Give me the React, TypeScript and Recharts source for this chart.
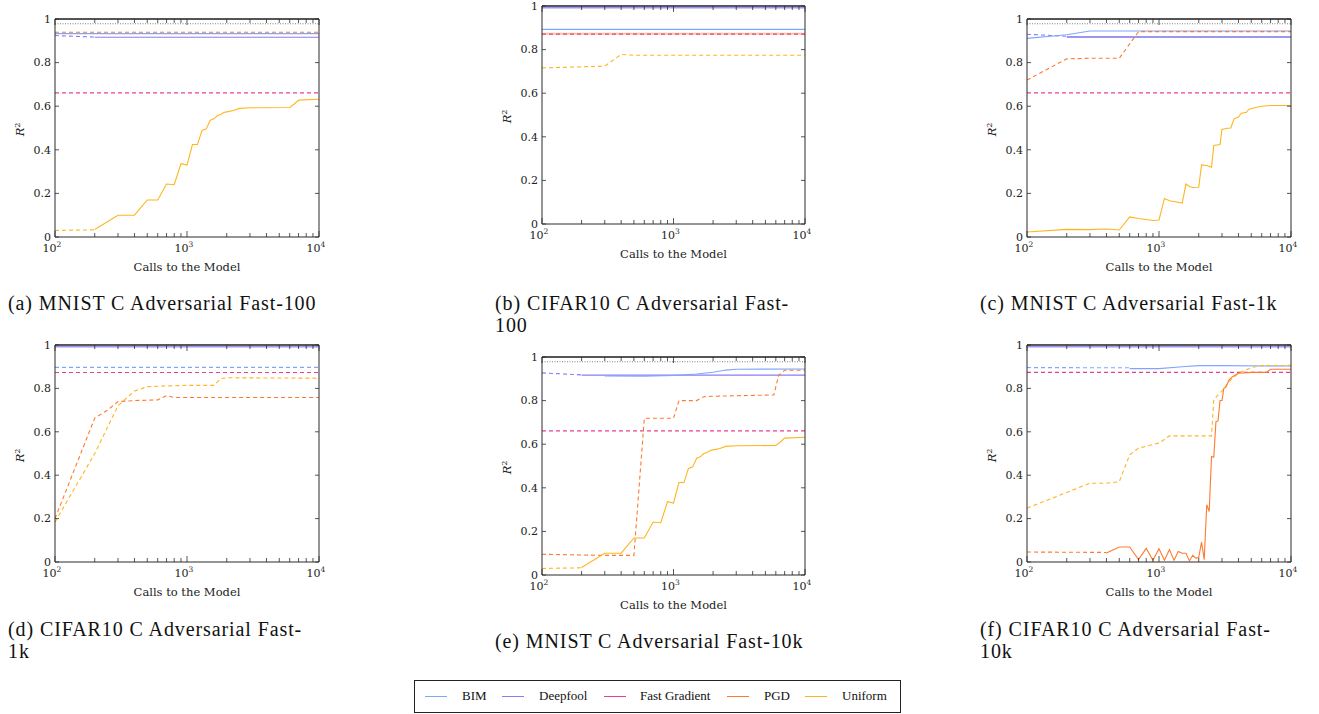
import React from 'react'
import { LineChart, Line, XAxis, YAxis } from 'recharts'

type Pt = [number, number]

// axis ticks
const xMajor = [100, 1000, 10000]
const xTicks = [100, 200, 300, 400, 500, 600, 700, 800, 900, 1000, 2000, 3000, 4000, 5000, 6000, 7000, 8000, 9000, 10000]
const yTicks = [0, 0.2, 0.4, 0.6, 0.8, 1]

const seriesNames = ['BIM', 'Deepfool', 'Fast Gradient', 'PGD', 'Uniform']
const seriesColors = ['#7fa6ff', '#8a7cf5', '#e8408f', '#ff7a2e', '#ffb51f']
const refColor = '#808080'
const frame = '#2b2b2b'

// reference lines (no legend entry)
const cleanTop: Pt[] = [[100, 1], [10000, 1]]
const mnistDotted: Pt[] = [[100, 0.978], [10000, 0.978]]
const cifarDotted: Pt[] = [[100, 0.997], [10000, 0.997]]
const cifarDeepfool: Pt[] = [[100, 0.993], [10000, 0.993]]

// uniform on MNIST (same in a and e)
const uniformMnistDash: Pt[] = [[100, 0.03], [200, 0.033]]
const uniformMnist: Pt[] = [
  [200, 0.034], [300, 0.1], [400, 0.1], [500, 0.17], [600, 0.17], [700, 0.243], [800, 0.24],
  [900, 0.336], [1000, 0.33], [1100, 0.424], [1200, 0.424], [1300, 0.489], [1400, 0.496],
  [1500, 0.536], [1600, 0.542], [1700, 0.557], [1800, 0.562], [1900, 0.571], [2000, 0.574],
  [2250, 0.58], [2500, 0.59], [3000, 0.593], [6000, 0.594], [6500, 0.61], [7000, 0.628], [10000, 0.632],
]

// (a) MNIST Fast-100
const aPgdDash: Pt[] = [[100, 0.939], [10000, 0.939]]
const aBim: Pt[] = [[100, 0.933], [10000, 0.933]]
const aDeepfoolDash: Pt[] = [[100, 0.924], [200, 0.917]]
const aDeepfool: Pt[] = [[200, 0.916], [10000, 0.916]]
const aFgsmDash: Pt[] = [[100, 0.661], [10000, 0.661]]

// (b) CIFAR10 Fast-100
const bBim: Pt[] = [[100, 0.893], [10000, 0.893]]
const bPgd: Pt[] = [[100, 0.873], [10000, 0.873]]
const bFgsmDash: Pt[] = [[100, 0.871], [10000, 0.871]]
const bUniformDash: Pt[] = [[100, 0.716], [300, 0.724], [400, 0.778], [500, 0.774], [10000, 0.774]]

// (c) MNIST Fast-1k
const cBim: Pt[] = [[100, 0.911], [200, 0.928], [300, 0.945], [10000, 0.945]]
const cDeepfoolDash: Pt[] = [[100, 0.93], [200, 0.921]]
const cDeepfool: Pt[] = [[200, 0.918], [10000, 0.918]]
const cPgdDash: Pt[] = [[100, 0.72], [200, 0.817], [300, 0.82], [500, 0.82], [700, 0.942], [10000, 0.942]]
const cFgsmDash: Pt[] = [[100, 0.661], [10000, 0.661]]
const cUniform: Pt[] = [
  [100, 0.023], [200, 0.035], [300, 0.034], [400, 0.037], [500, 0.032], [600, 0.092], [700, 0.085],
  [800, 0.08], [900, 0.076], [1000, 0.078], [1100, 0.177], [1200, 0.166], [1300, 0.163], [1500, 0.156],
  [1600, 0.243], [1700, 0.232], [1800, 0.227], [2000, 0.228], [2100, 0.331], [2300, 0.328], [2500, 0.32],
  [2600, 0.42], [2900, 0.424], [3000, 0.493], [3300, 0.499], [3500, 0.5], [3700, 0.542], [4000, 0.55],
  [4200, 0.568], [4600, 0.572], [4800, 0.586], [5500, 0.595], [6000, 0.6], [7000, 0.603], [10000, 0.603],
]

// (d) CIFAR10 Fast-1k
const dBimDash: Pt[] = [[100, 0.897], [10000, 0.897]]
const dFgsmDash: Pt[] = [[100, 0.873], [10000, 0.873]]
const dUniformDash: Pt[] = [
  [100, 0.184], [200, 0.5], [300, 0.72], [400, 0.788], [500, 0.808], [600, 0.81], [1000, 0.814],
  [1600, 0.814], [1800, 0.845], [2000, 0.849], [10000, 0.847],
]
const dPgdDash: Pt[] = [
  [100, 0.2], [200, 0.663], [250, 0.7], [300, 0.739], [400, 0.744], [600, 0.747], [700, 0.767],
  [800, 0.758], [10000, 0.758],
]

// (e) MNIST Fast-10k
const eDeepfoolDash: Pt[] = [[100, 0.927], [200, 0.918]]
const eDeepfool: Pt[] = [[200, 0.917], [10000, 0.917]]
const eBim: Pt[] = [[300, 0.913], [600, 0.912], [1000, 0.915], [1500, 0.922], [2000, 0.93], [2500, 0.94], [3000, 0.944], [10000, 0.945]]
const ePgdDash: Pt[] = [
  [100, 0.095], [300, 0.09], [500, 0.09], [600, 0.719], [1000, 0.719], [1100, 0.8], [1500, 0.8],
  [1700, 0.818], [2000, 0.82], [5800, 0.826], [6300, 0.916], [7000, 0.939], [10000, 0.939],
]
const eFgsmDash: Pt[] = [[100, 0.661], [10000, 0.661]]

// (f) CIFAR10 Fast-10k
const fBimDash: Pt[] = [[100, 0.896], [600, 0.895]]
const fBim: Pt[] = [[600, 0.891], [1000, 0.891], [1500, 0.9], [2000, 0.905], [3000, 0.905], [10000, 0.903]]
const fFgsmDash: Pt[] = [[100, 0.874], [10000, 0.874]]
const fUniformDash: Pt[] = [
  [100, 0.248], [300, 0.363], [400, 0.363], [500, 0.37], [600, 0.494], [700, 0.525], [1000, 0.548],
  [1200, 0.581], [2500, 0.581], [2600, 0.747], [2800, 0.77], [3000, 0.788], [3500, 0.839], [4000, 0.87],
  [5000, 0.896], [6000, 0.905], [10000, 0.906],
]
const fPgdDash: Pt[] = [[100, 0.046], [400, 0.044]]
const fPgd: Pt[] = [
  [400, 0.041], [500, 0.069], [600, 0.069], [700, 0.011], [800, 0.063], [900, 0.008], [1000, 0.061],
  [1100, 0.008], [1200, 0.057], [1300, 0.008], [1400, 0.048], [1500, 0.04], [1600, 0.04], [1700, 0.005],
  [1800, 0.031], [1900, 0.018], [2000, 0.021], [2100, 0.092], [2200, 0.011], [2300, 0.264], [2400, 0.233],
  [2500, 0.486], [2600, 0.483], [2700, 0.647], [2800, 0.65], [2900, 0.744], [3000, 0.744], [3100, 0.8],
  [3200, 0.805], [3400, 0.839], [3600, 0.854], [4000, 0.87], [5000, 0.874], [6500, 0.874], [7000, 0.888],
  [10000, 0.888],
]

type Seg = { data: Pt[]; color: string; style?: 'solid' | 'dash' | 'dot'; width?: number }

const BIM = seriesColors[0], DF = seriesColors[1], FG = seriesColors[2], PGD = seriesColors[3], UNI = seriesColors[4]
const DF_THICK = '#9d95f2'

const panels: { L: number; T: number; W: number; H: number; caption: string[]; cx: number; cy: number; segs: Seg[] }[] = [
  {
    L: 55, T: 19, W: 264, H: 218, caption: ['(a) MNIST C Adversarial Fast-100'], cx: 8, cy: 292,
    segs: [
      { data: mnistDotted, color: refColor, style: 'dot' },
      { data: aFgsmDash, color: FG, style: 'dash' },
      { data: aDeepfoolDash, color: DF, style: 'dash' },
      { data: aDeepfool, color: DF },
      { data: aBim, color: BIM },
      { data: aPgdDash, color: PGD, style: 'dash' },
      { data: uniformMnistDash, color: UNI, style: 'dash' },
      { data: uniformMnist, color: UNI },
    ],
  },
  {
    L: 542, T: 6, W: 263, H: 218, caption: ['(b) CIFAR10 C Adversarial Fast-', '100'], cx: 495, cy: 292,
    segs: [
      { data: cifarDotted, color: refColor, style: 'dot' },
      { data: cifarDeepfool, color: DF_THICK, width: 2 },
      { data: bBim, color: BIM },
      { data: bPgd, color: '#ffc39c', width: 2 },
      { data: bFgsmDash, color: FG, style: 'dash' },
      { data: bUniformDash, color: UNI, style: 'dash' },
    ],
  },
  {
    L: 1027, T: 19, W: 264, H: 218, caption: ['(c) MNIST C Adversarial Fast-1k'], cx: 980, cy: 292,
    segs: [
      { data: mnistDotted, color: refColor, style: 'dot' },
      { data: cFgsmDash, color: FG, style: 'dash' },
      { data: cDeepfoolDash, color: DF, style: 'dash' },
      { data: cDeepfool, color: DF_THICK, width: 2 },
      { data: cBim, color: BIM },
      { data: cPgdDash, color: PGD, style: 'dash' },
      { data: cUniform, color: UNI },
    ],
  },
  {
    L: 55, T: 345, W: 264, H: 217, caption: ['(d) CIFAR10 C Adversarial Fast-', '1k'], cx: 8, cy: 618,
    segs: [
      { data: cifarDotted, color: refColor, style: 'dot' },
      { data: cifarDeepfool, color: DF_THICK, width: 2 },
      { data: dBimDash, color: BIM, style: 'dash' },
      { data: dFgsmDash, color: FG, style: 'dash' },
      { data: dUniformDash, color: UNI, style: 'dash' },
      { data: dPgdDash, color: PGD, style: 'dash' },
    ],
  },
  {
    L: 542, T: 357, W: 263, H: 218, caption: ['(e) MNIST C Adversarial Fast-10k'], cx: 495, cy: 630,
    segs: [
      { data: mnistDotted, color: refColor, style: 'dot' },
      { data: eFgsmDash, color: FG, style: 'dash' },
      { data: eDeepfoolDash, color: DF, style: 'dash' },
      { data: eDeepfool, color: DF },
      { data: eBim, color: BIM },
      { data: ePgdDash, color: PGD, style: 'dash' },
      { data: uniformMnistDash, color: UNI, style: 'dash' },
      { data: uniformMnist, color: UNI },
    ],
  },
  {
    L: 1027, T: 345, W: 264, H: 217, caption: ['(f) CIFAR10 C Adversarial Fast-', '10k'], cx: 980, cy: 618,
    segs: [
      { data: cifarDotted, color: refColor, style: 'dot' },
      { data: cifarDeepfool, color: DF_THICK, width: 2 },
      { data: fFgsmDash, color: FG, style: 'dash' },
      { data: fBimDash, color: BIM, style: 'dash' },
      { data: fBim, color: BIM },
      { data: fUniformDash, color: UNI, style: 'dash' },
      { data: fPgdDash, color: PGD, style: 'dash' },
      { data: fPgd, color: PGD },
    ],
  },
]

const tickFont = 'DejaVu Serif, serif'

function BottomTick(props: any) {
  const { x, y, payload } = props
  const v = payload.value
  const major = xMajor.includes(v)
  return (
    <g>
      <line x1={x} x2={x} y1={y} y2={y - (major ? 6 : 4)} stroke={frame} strokeWidth={0.8} />
      {major && (
        <text x={x - 3} y={y + 15} textAnchor="middle" fontFamily={tickFont} fontSize={11} fill="#222">
          10
          <tspan dy={-5} fontSize={7.5}>{Math.round(Math.log10(v))}</tspan>
        </text>
      )}
    </g>
  )
}

function TopTick(props: any) {
  const { x, y, payload } = props
  const major = xMajor.includes(payload.value)
  return <line x1={x} x2={x} y1={y} y2={y + (major ? 6 : 4)} stroke={frame} strokeWidth={0.8} />
}

function LeftTick(props: any) {
  const { x, y, payload } = props
  const v = payload.value
  const label = v === 0 ? '0' : v === 1 ? '1' : v.toFixed(1)
  return (
    <g>
      <line x1={x} x2={x + 4} y1={y} y2={y} stroke={frame} strokeWidth={0.8} />
      <text x={x - 4} y={y} dy="0.35em" textAnchor="end" fontFamily={tickFont} fontSize={11} fill="#222">
        {label}
      </text>
    </g>
  )
}

function RightTick(props: any) {
  const { x, y } = props
  return <line x1={x} x2={x - 4} y1={y} y2={y} stroke={frame} strokeWidth={0.8} />
}

const pts = (a: Pt[]) => a.map(([x, y]) => ({ x, y }))

function Panel({ p }: { p: (typeof panels)[number] }) {
  // outer margins plus axis boxes: left 45, bottom 40, top 1, right 1
  const yw = 45, xh = 40
  const ml = 5, mt = 5, mr = 13, mb = 4
  return (
    <>
      <div style={{ position: 'absolute', left: p.L - ml - yw, top: p.T - mt - 1 }}>
        <LineChart
          width={p.W + ml + yw + mr + 1}
          height={p.H + mt + 1 + mb + xh}
          margin={{ top: mt, right: mr, bottom: mb, left: ml }}
        >
          <XAxis
            dataKey="x" type="number" scale="log" domain={[100, 10000]} ticks={xTicks} interval={0}
            height={xh} tickSize={0} tickMargin={0} tickLine={false} axisLine={{ stroke: frame }}
            tick={<BottomTick />}
          />
          <XAxis
            xAxisId="top" orientation="top" dataKey="x" type="number" scale="log" domain={[100, 10000]}
            ticks={xTicks} interval={0} height={1} tickSize={0} tickMargin={0} tickLine={false}
            axisLine={{ stroke: frame }} tick={<TopTick />}
          />
          <YAxis
            type="number" domain={[0, 1]} ticks={yTicks} interval={0} width={yw} tickSize={0} tickMargin={0}
            tickLine={false} axisLine={{ stroke: frame }} tick={<LeftTick />}
          />
          <YAxis
            yAxisId="right" orientation="right" type="number" domain={[0, 1]} ticks={yTicks} interval={0}
            width={1} tickSize={0} tickMargin={0} tickLine={false} axisLine={{ stroke: frame }} tick={<RightTick />}
          />
          <Line
            xAxisId="top" yAxisId="right" data={pts(cleanTop)} dataKey="y" stroke={refColor} strokeWidth={2.2}
            dot={false} activeDot={false} isAnimationActive={false}
          />
          {p.segs.map((s, i) => (
            <Line
              key={i}
              data={pts(s.data)}
              dataKey="y"
              type="linear"
              stroke={s.color}
              strokeWidth={s.width ?? 1.1}
              strokeDasharray={s.style === 'dash' ? '4 3' : s.style === 'dot' ? '1 1.5' : undefined}
              dot={false}
              activeDot={false}
              isAnimationActive={false}
            />
          ))}
        </LineChart>
      </div>
      <div
        style={{
          position: 'absolute', left: p.L, width: p.W, top: p.T + p.H + 22, textAlign: 'center',
          fontFamily: tickFont, fontSize: 11.5, color: '#222', lineHeight: '16px',
        }}
      >
        Calls to the Model
      </div>
      <div
        style={{
          position: 'absolute', left: p.L - 36 - 20, top: p.T + p.H / 2 - 8, width: 40, textAlign: 'center',
          transform: 'rotate(-90deg)', fontFamily: tickFont, fontSize: 11.5, color: '#222', lineHeight: '16px',
        }}
      >
        <i>R</i>
        <sup style={{ fontSize: 8 }}>2</sup>
      </div>
      <div
        style={{
          position: 'absolute', left: p.cx, top: p.cy, fontFamily: 'Liberation Serif, serif', fontSize: 20,
          letterSpacing: 0.9, lineHeight: '22px', color: '#111', whiteSpace: 'nowrap',
        }}
      >
        {p.caption.map((c, i) => (
          <div key={i}>{c}</div>
        ))}
      </div>
    </>
  )
}

const legendPos = [
  { line: 10, text: 47 },
  { line: 87, text: 124 },
  { line: 189, text: 225 },
  { line: 312, text: 349 },
  { line: 390, text: 427 },
]

export default function App() {
  return (
    <div style={{ position: 'fixed', left: 0, top: 0, width: 1319, height: 714, background: '#fff', overflow: 'hidden' }}>
      {panels.map((p, i) => (
        <Panel key={i} p={p} />
      ))}
      <div
        style={{
          position: 'absolute', left: 414, top: 680, width: 485, height: 31, border: '1px solid #222',
          fontFamily: 'Liberation Serif, serif', fontSize: 13, color: '#111',
        }}
      >
        {seriesNames.map((n, i) => (
          <React.Fragment key={n}>
            <div
              style={{
                position: 'absolute', left: legendPos[i].line, top: 15, width: 22, height: 0,
                borderTop: `1.2px solid ${seriesColors[i]}`,
              }}
            />
            <div style={{ position: 'absolute', left: legendPos[i].text, top: 7, lineHeight: '16px' }}>{n}</div>
          </React.Fragment>
        ))}
      </div>
    </div>
  )
}
